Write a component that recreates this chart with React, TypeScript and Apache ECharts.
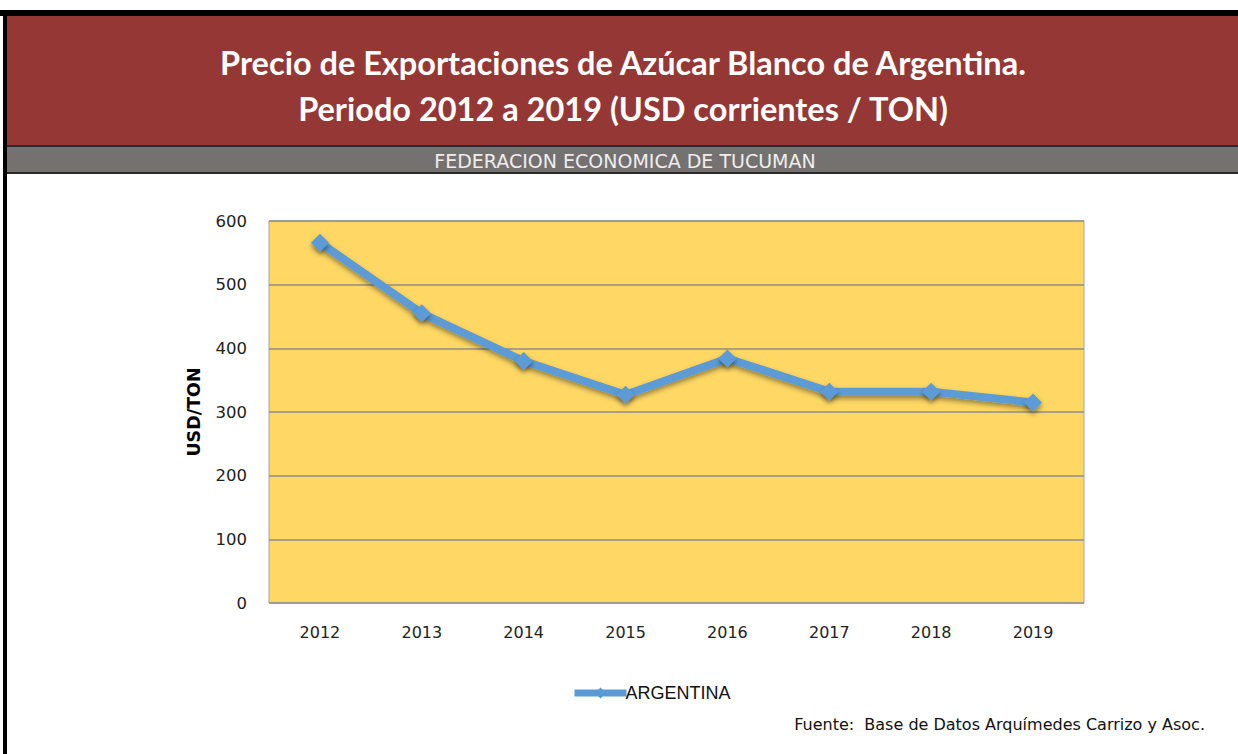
import React, { useEffect, useRef } from "react";
import * as echarts from "echarts";

const years = ["2012", "2013", "2014", "2015", "2016", "2017", "2018", "2019"];
const argentina = [566, 455, 380, 327, 384, 332, 332, 315];
const titleLine1 = "Precio de Exportaciones de Azúcar Blanco de Argentina.";
const titleLine2 = "Periodo 2012 a 2019 (USD corrientes / TON)";
const subtitle = "FEDERACION ECONOMICA DE TUCUMAN";
const source = "Fuente:  Base de Datos Arquímedes Carrizo y Asoc.";

export default function App() {
  const ref = useRef<HTMLDivElement>(null);
  useEffect(() => {
    const chart = echarts.init(ref.current!, null, { renderer: "svg" });
    chart.setOption({
      animation: false,
      backgroundColor: "#ffffff",
      grid: {
        left: 269,
        top: 221,
        right: 154,
        bottom: 151,
        show: true,
        backgroundColor: "#FED764",
        borderColor: "#a6a6a6",
        borderWidth: 1,
      },
      legend: {
        left: 566,
        top: 679,
        itemWidth: 52,
        itemHeight: 14,
        itemGap: 0,
        textStyle: { fontFamily: "Liberation Sans", fontSize: 18, color: "#111", padding: [0, 0, 0, -6] },
        lineStyle: { width: 7, color: "#5B9BD5" },
        data: ["ARGENTINA"],
      },
      xAxis: {
        type: "category",
        data: years,
        boundaryGap: true,
        axisLine: { show: false },
        axisTick: { show: false },
        axisLabel: { fontFamily: "DejaVu Sans", fontSize: 16, color: "#222", margin: 21 },
        splitLine: { show: false },
      },
      yAxis: {
        type: "value",
        min: 0,
        max: 600,
        interval: 100,
        name: "USD/TON",
        nameLocation: "middle",
        nameGap: 66,
        nameRotate: 90,
        nameTextStyle: { fontFamily: "DejaVu Sans", fontWeight: "bold", fontSize: 17.5, color: "#000" },
        axisLine: { show: false },
        axisTick: { show: false },
        axisLabel: { fontFamily: "DejaVu Sans", fontSize: 16.5, color: "#222", margin: 22 },
        splitLine: { show: true, lineStyle: { color: "#8c8c8c", width: 1.5 } },
      },
      series: [
        {
          name: "ARGENTINA",
          type: "line",
          data: argentina,
          symbol: "diamond",
          symbolSize: 18,
          itemStyle: { color: "#5B9BD5", shadowBlur: 5, shadowColor: "rgba(0,0,0,0.45)", shadowOffsetY: 3 },
          lineStyle: { color: "#5B9BD5", width: 8, shadowBlur: 5, shadowColor: "rgba(0,0,0,0.4)", shadowOffsetY: 3 },
        },
      ],
      graphic: [
        { type: "rect", shape: { x: 0, y: 10, width: 1238, height: 6 }, style: { fill: "#000" }, z: 10 },
        { type: "rect", shape: { x: 3, y: 10, width: 4, height: 744 }, style: { fill: "#000" }, z: 10 },
        { type: "rect", shape: { x: 7, y: 16, width: 1231, height: 129 }, style: { fill: "#953735" }, z: 9 },
        { type: "rect", shape: { x: 7, y: 145, width: 1231, height: 2 }, style: { fill: "#2a2a2a" }, z: 9 },
        { type: "rect", shape: { x: 7, y: 147, width: 1231, height: 25 }, style: { fill: "#767171" }, z: 9 },
        { type: "rect", shape: { x: 7, y: 172, width: 1231, height: 2 }, style: { fill: "#2a2a2a" }, z: 9 },
        {
          type: "text",
          x: 623,
          y: 62,
          style: { text: titleLine1, fill: "#fff", fontFamily: "Lato", fontWeight: "bold", fontSize: 32.5, align: "center", verticalAlign: "middle" },
          z: 11,
        },
        {
          type: "text",
          x: 623,
          y: 108,
          style: { text: titleLine2, fill: "#fff", fontFamily: "Lato", fontWeight: "bold", fontSize: 32.5, align: "center", verticalAlign: "middle" },
          z: 11,
        },
        {
          type: "text",
          x: 625,
          y: 161,
          style: { text: subtitle, fill: "#eeeeee", fontFamily: "DejaVu Sans", fontSize: 19, align: "center", verticalAlign: "middle" },
          z: 11,
        },
        {
          type: "text",
          x: 1205,
          y: 724,
          style: { text: source, fill: "#111", fontFamily: "DejaVu Sans", fontSize: 16, align: "right", verticalAlign: "middle" },
          z: 11,
        },
      ],
    });
    return () => chart.dispose();
  }, []);
  return <div ref={ref} style={{ position: "fixed", left: 0, top: 0, width: 1238, height: 754 }} />;
}
